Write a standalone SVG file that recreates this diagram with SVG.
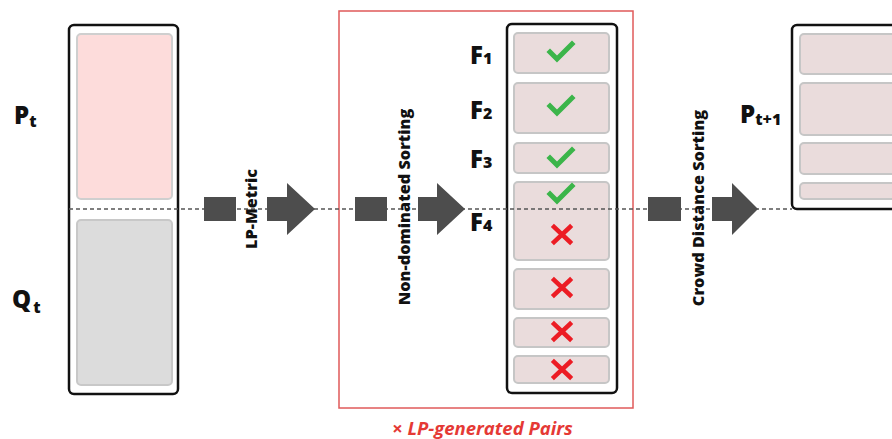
<svg xmlns="http://www.w3.org/2000/svg" width="892" height="439" viewBox="0 0 892 439">
  <style>
    .frame { fill: #ffffff; stroke: #111111; stroke-width: 2.5; }
    .slot { fill: #eadcdc; stroke: #c6c6c6; stroke-width: 2; }
    .parent { fill: #fddcdb; stroke: #cfcfcf; stroke-width: 2; }
    .child { fill: #dcdcdc; stroke: #c8c8c8; stroke-width: 2; }
    .block { fill: #4d4d4d; }
    .lbl { font-family: "Open Sans", "Liberation Sans", sans-serif; font-weight: 800; fill: #111111; }
    .big { font-size: 24px; }
    .sub { font-size: 16px; }
    .step { font-family: "Open Sans", "Liberation Sans", sans-serif; font-weight: 800; font-size: 16.3px; fill: #111111; }
    .ok { fill: none; stroke: #3cb54a; stroke-width: 5; stroke-linecap: square; stroke-linejoin: miter; }
    .no { fill: none; stroke: #ec1c24; stroke-width: 4.5; stroke-linecap: square; }
  </style>

  <!-- LP-generated pairs region -->
  <rect id="lp-region" x="339" y="11" width="294" height="397" fill="none" stroke="#e05a5a" stroke-width="1.5"/>
  <text x="392" y="435" font-family="'Open Sans', 'Liberation Sans', sans-serif" font-weight="bold" font-style="italic" font-size="18.5" fill="#e53935">× LP-generated Pairs</text>

  <!-- Population P_t ∪ Q_t -->
  <g id="combined-population">
    <rect class="frame" x="69" y="25" width="109" height="369" rx="5"/>
    <rect class="parent" x="77" y="34" width="95" height="165" rx="4"/>
    <rect class="child" x="77" y="220" width="95" height="165" rx="4"/>
    <text class="lbl big" x="14" y="124">P<tspan class="sub" dy="3">t</tspan></text>
    <text class="lbl big" x="12" y="308">Q<tspan class="sub" dx="2" dy="5">t</tspan></text>
  </g>

  <!-- Fronts after sorting -->
  <g id="fronts">
    <rect class="frame" x="507" y="24" width="110" height="369" rx="5"/>
    <rect class="slot" x="514" y="33" width="95" height="40" rx="4"/>
    <rect class="slot" x="514" y="83" width="95" height="50" rx="4"/>
    <rect class="slot" x="514" y="143" width="95" height="30" rx="4"/>
    <rect class="slot" x="514" y="182" width="95" height="78" rx="4"/>
    <rect class="slot" x="514" y="269" width="95" height="40" rx="4"/>
    <rect class="slot" x="514" y="318" width="95" height="29" rx="4"/>
    <rect class="slot" x="514" y="356" width="95" height="27" rx="4"/>
    <text class="lbl big" x="470" y="64">F<tspan class="sub">1</tspan></text>
    <text class="lbl big" x="470" y="119">F<tspan class="sub">2</tspan></text>
    <text class="lbl big" x="470" y="168">F<tspan class="sub">3</tspan></text>
    <text class="lbl big" x="470" y="231">F<tspan class="sub">4</tspan></text>
  </g>

  <!-- Next population -->
  <g id="next-population">
    <rect class="frame" x="792" y="25" width="120" height="184" rx="5"/>
    <rect class="slot" x="800" y="34" width="100" height="40" rx="4"/>
    <rect class="slot" x="800" y="83" width="100" height="52" rx="4"/>
    <rect class="slot" x="800" y="143" width="100" height="31" rx="4"/>
    <rect class="slot" x="800" y="183" width="100" height="16" rx="4"/>
    <text class="lbl big" x="740" y="123">P<tspan class="sub" dy="2">t+1</tspan></text>
  </g>

  <!-- connectors -->
  <g id="connectors">
    <line x1="69" y1="209" x2="792" y2="209" stroke="#555555" stroke-width="1.4" stroke-dasharray="4 3"/>
    <rect class="block" x="204" y="197" width="32" height="24"/>
    <polygon class="block" points="267,197 287,197 287,183 315,209 287,235 287,221 267,221"/>
    <rect class="block" x="355" y="197" width="32" height="24"/>
    <polygon class="block" points="418,197 437,197 437,183 465,209 437,235 437,221 418,221"/>
    <rect class="block" x="648" y="197" width="33" height="24"/>
    <polygon class="block" points="712,197 732,197 732,183 758,209 732,235 732,221 712,221"/>
  </g>

  <!-- step labels -->
  <text class="step" transform="translate(251,209) rotate(-90)" text-anchor="middle" dominant-baseline="central" font-size="15.5">LP-Metric</text>
  <text class="step" transform="translate(404,207) rotate(-90)" text-anchor="middle" dominant-baseline="central">Non-dominated Sorting</text>
  <text class="step" transform="translate(698,208) rotate(-90)" text-anchor="middle" dominant-baseline="central">Crowd Distance Sorting</text>

  <!-- selection marks -->
  <g id="marks">
    <polyline class="ok" points="550,52 557,59 572,44"/>
    <polyline class="ok" points="550,106 557,113 572,98"/>
    <polyline class="ok" points="550,158 557,165 572,150"/>
    <polyline class="ok" points="550,194 557,201 572,186"/>
    <path class="no" d="M554,227 L570,242 M570,227 L554,242"/>
    <path class="no" d="M554,280 L570,295 M570,280 L554,295"/>
    <path class="no" d="M554,324 L570,339 M570,324 L554,339"/>
    <path class="no" d="M554,362 L570,377 M570,362 L554,377"/>
  </g>
</svg>
